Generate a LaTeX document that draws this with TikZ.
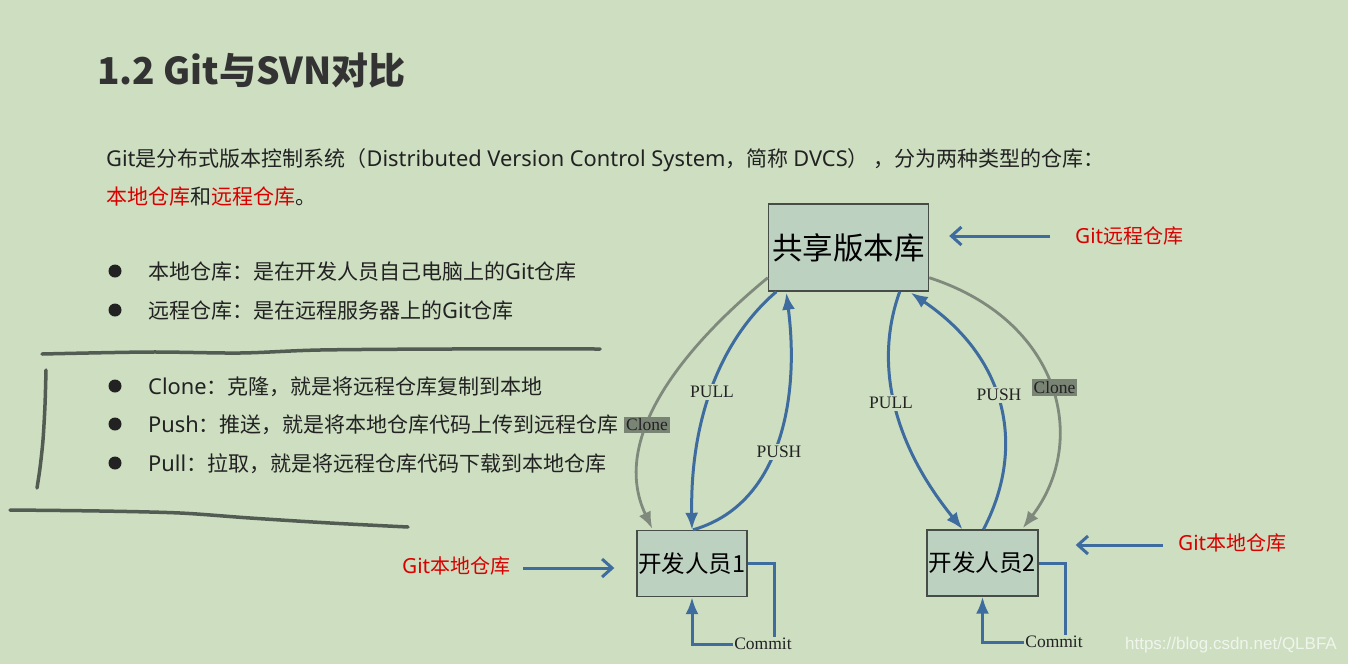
\documentclass[tikz,border=0pt]{standalone}
\usepackage{fontspec}
\setmainfont{Liberation Serif}
\newfontfamily\cjk{Noto Sans CJK SC}
\newfontfamily\latin[Scale=1.04]{Noto Sans}
\newfontfamily\wmfont{Liberation Sans}
\newcommand\lt[1]{{\latin #1}}
\usetikzlibrary{arrows.meta,calc}
\definecolor{bg}{RGB}{205,222,193}
\definecolor{boxfill}{RGB}{189,209,193}
\definecolor{boxline}{RGB}{70,76,70}
\definecolor{arrowblue}{RGB}{62,108,158}
\definecolor{curvegray}{RGB}{128,138,124}
\definecolor{clonebox}{RGB}{122,132,117}
\definecolor{txt}{RGB}{34,34,34}
\definecolor{ttl}{RGB}{51,51,51}
\definecolor{redtxt}{RGB}{218,0,0}
\definecolor{hand}{RGB}{82,92,82}
\tikzset{
  bodytext/.style={anchor=base west, inner sep=0pt, text=txt, font=\cjk\fontsize{21}{24}\selectfont},
  bulletdot/.style={circle, fill=txt, inner sep=0pt, minimum size=13pt},
  handline/.style={draw=hand, line width=3.5pt, line cap=round, line join=round},
  repo/.style={draw=boxline, line width=1.4pt, fill=boxfill, inner sep=0pt, text=black},
  blueflow/.style={draw=arrowblue, line width=3pt, -{Latex[length=17pt,width=13pt]}},
  grayflow/.style={draw=curvegray, line width=2.8pt, -{Latex[length=17pt,width=13pt]}},
  flowlabel/.style={fill=bg, inner sep=2pt, text=txt, font=\fontsize{17.5}{20}\selectfont},
  clonelabel/.style={fill=clonebox, inner sep=2pt, text=txt, font=\fontsize{17.5}{20}\selectfont},
  commitlabel/.style={inner sep=1pt, text=txt, font=\fontsize{17.5}{20}\selectfont},
  redlabel/.style={inner sep=0pt, text=redtxt, font=\cjk\fontsize{20}{24}\selectfont},
  pointer/.style={draw=arrowblue, line width=3pt, -{Straight Barb[length=10pt,width=18pt]}},
  commitline/.style={draw=arrowblue, line width=3pt}
}
\begin{document}
\begin{tikzpicture}[x=1pt,y=-1pt]
\useasboundingbox (0,0) rectangle (1348,664);
\fill[bg] (0,0) rectangle (1348,664);

% title
\node[anchor=base west, inner sep=0pt, text=ttl, font=\cjk\bfseries\fontsize{37}{44}\selectfont] (title) at (97,84) {1.2 Git与SVN对比};

% intro text
\node[bodytext] (intro1) at (106,166) {\lt{Git}是分布式版本控制系统（\lt{Distributed Version Control System}，简称 \lt{DVCS}） ，分为两种类型的仓库：};
\node[bodytext] (intro2) at (106,204) {\textcolor{redtxt}{本地仓库}和\textcolor{redtxt}{远程仓库}。};

% bullets
\node[bulletdot] (d1) at (115,271) {};
\node[bodytext] (b1) at (148,279) {本地仓库：是在开发人员自己电脑上的\lt{Git}仓库};
\node[bulletdot] (d2) at (115,310) {};
\node[bodytext] (b2) at (148,318) {远程仓库：是在远程服务器上的\lt{Git}仓库};
\node[bulletdot] (d3) at (115,386) {};
\node[bodytext] (b3) at (148,394) {\lt{Clone}：克隆，就是将远程仓库复制到本地};
\node[bulletdot] (d4) at (115,424) {};
\node[bodytext] (b4) at (148,432) {\lt{Push}：推送，就是将本地仓库代码上传到远程仓库};
\node[bulletdot] (d5) at (115,463) {};
\node[bodytext] (b5) at (148,471) {\lt{Pull}：拉取，就是将远程仓库代码下载到本地仓库};

% hand drawn marks
\draw[handline] plot[smooth] coordinates {(42,354) (150,352) (240,353) (320,350) (450,349) (600,349)};
\draw[handline] plot[smooth] coordinates {(46,370) (45,405) (43,440) (40,468) (37,488)};
\draw[handline] plot[smooth] coordinates {(10,510) (100,511) (180,513) (250,518) (330,523) (408,527)};

% repositories
\node[repo, minimum width=160pt, minimum height=87pt, font=\cjk\fontsize{30.5}{34}\selectfont] (shared) at (848.5,247.5) {共享版本库};
\node[repo, minimum width=110pt, minimum height=66pt, font=\cjk\fontsize{23.5}{28}\selectfont] (dev1) at (692,563.5) {开发人员1};
\node[repo, minimum width=111pt, minimum height=66pt, font=\cjk\fontsize{23.5}{28}\selectfont] (dev2) at (982.5,563) {开发人员2};

% flows left
\draw[grayflow] ($(shared.south west)+(0,-14)$) .. controls (680,350) and (610,440) .. ($(dev1.north west)+(16,-1)$);
\draw[blueflow] ($(shared.south west)+(8.5,0)$) .. controls (720,340) and (690,420) .. (dev1.north);
\draw[blueflow] ($(dev1.north)+(1,0)$) .. controls (780,505) and (800,400) .. ($(shared.south west)+(18.5,1)$);
% flows right
\draw[blueflow] ($(shared.south east)+(-29.5,0)$) .. controls (875,360) and (890,440) .. ($(dev2.north)+(-20,0)$);
\draw[blueflow] ($(dev2.north)+(1,0)$) .. controls (1025,450) and (1010,360) .. ($(shared.south east)+(-18.5,1)$);
\draw[grayflow] ($(shared.south east)+(0,-14)$) .. controls (1060,320) and (1090,440) .. ($(dev2.north east)+(-16,-1)$);

% flow labels
\node[flowlabel] (pull1) at (712,392) {PULL};
\node[flowlabel] (push1) at (779,452) {PUSH};
\node[flowlabel] (pull2) at (891,403) {PULL};
\node[flowlabel] (push2) at (999,395) {PUSH};
\node[clonelabel] (clone1) at (647,425) {Clone};
\node[clonelabel] (clone2) at (1054.5,387.5) {Clone};

% commit loops
\node[commitlabel] (commit1) at (763,644) {Commit};
\node[commitlabel] (commit2) at (1054,642) {Commit};
\draw[commitline] (dev1.east) -| ([xshift=11pt]commit1.north);
\draw[commitline, -{Latex[length=17pt,width=13pt]}] (commit1.west) -| (dev1.south);
\draw[commitline] (dev2.east) -| ([xshift=11pt]commit2.north);
\draw[commitline, -{Latex[length=17pt,width=13pt]}] (commit2.west) -| (dev2.south);

% red pointers
\node[redlabel, anchor=west] (remotelbl) at (1075,236) {\lt{Git}远程仓库};
\node[redlabel, anchor=west] (local1lbl) at (402,566) {\lt{Git}本地仓库};
\node[redlabel, anchor=west] (local2lbl) at (1178,543) {\lt{Git}本地仓库};
\draw[pointer, shorten <=25pt, shorten >=20pt] (remotelbl.west) -- (remotelbl.west -| shared.east);
\draw[pointer, shorten <=13pt, shorten >=22pt] ([yshift=-2pt]local1lbl.east) -- ([yshift=-2pt]local1lbl.east -| dev1.west);
\draw[pointer, shorten <=15pt, shorten >=37pt] ([yshift=-2pt]local2lbl.west) -- ([yshift=-2pt]local2lbl.west -| dev2.east);

% watermark
\node[anchor=east, inner sep=0pt, text=white, opacity=0.7, font=\wmfont\fontsize{17}{20}\selectfont] (wm) at (1337,645) {https://blog.csdn.net/QLBFA};
\end{tikzpicture}
\end{document}
